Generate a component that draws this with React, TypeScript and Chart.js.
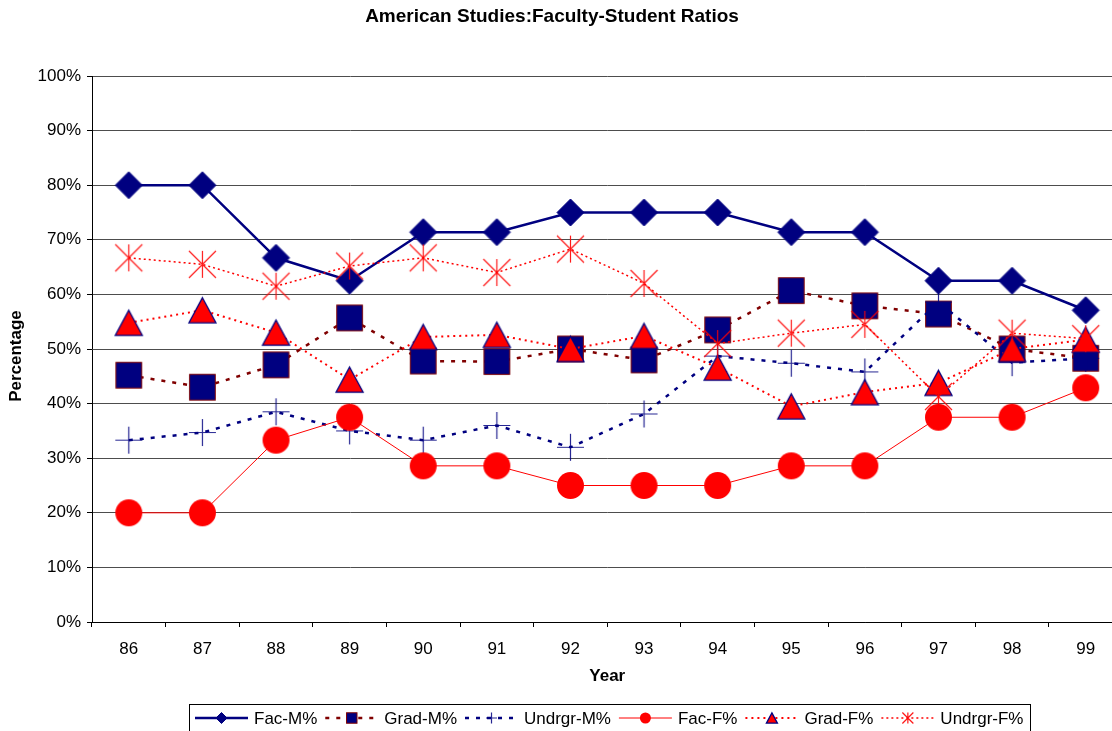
import React, { useEffect, useRef } from 'react';
import { Chart, registerables } from 'chart.js';

Chart.register(...registerables);

const years = ['86', '87', '88', '89', '90', '91', '92', '93', '94', '95', '96', '97', '98', '99'];
const facM = [80, 80, 66.7, 62.5, 71.4, 71.4, 75, 75, 75, 71.4, 71.4, 62.5, 62.5, 57.1];
const gradM = [45.2, 43.0, 47.1, 55.7, 47.8, 47.7, 50, 48.0, 53.5, 60.7, 57.9, 56.4, 50, 48.3];
const undrgrM = [33.3, 34.7, 38.5, 35.0, 33.3, 36.0, 32.0, 38.1, 48.7, 47.4, 45.8, 58.6, 47.5, 48.3];
const facF = [20, 20, 33.3, 37.5, 28.6, 28.6, 25, 25, 25, 28.6, 28.6, 37.5, 37.5, 42.9];
const gradF = [54.8, 57.1, 53.0, 44.4, 52.2, 52.6, 50, 52.4, 46.6, 39.5, 42.1, 43.8, 50, 51.7];
const undrgrF = [66.7, 65.5, 61.5, 65.2, 66.7, 64.0, 68.3, 62.0, 51.0, 52.9, 54.5, 41.3, 52.9, 51.9];

const seriesLabels = ['Fac-M%', 'Grad-M%', 'Undrgr-M%', 'Fac-F%', 'Grad-F%', 'Undrgr-F%'];
const yTicks = [0, 10, 20, 30, 40, 50, 60, 70, 80, 90, 100];

const chartTitle = 'American Studies:Faculty-Student Ratios';
const xTitle = 'Year';
const yTitle = 'Percentage';

const NAVY = '#000080';
const MAROON = '#800000';
const RED = '#FF0000';
const FONT = '"Liberation Sans", Arial, sans-serif';

type Kind = 'diamond' | 'square' | 'plus' | 'circle' | 'triangle' | 'star';

function drawMarker(ctx: CanvasRenderingContext2D, kind: Kind, cx: number, cy: number, s: number) {
  const h = s / 2;
  ctx.save();
  ctx.setLineDash([]);
  if (kind === 'diamond') {
    ctx.beginPath();
    ctx.moveTo(cx, cy - h);
    ctx.lineTo(cx + h, cy);
    ctx.lineTo(cx, cy + h);
    ctx.lineTo(cx - h, cy);
    ctx.closePath();
    ctx.fillStyle = NAVY;
    ctx.fill();
    ctx.strokeStyle = NAVY;
    ctx.lineWidth = 1;
    ctx.stroke();
  } else if (kind === 'square') {
    const q = h * 0.95;
    ctx.fillStyle = NAVY;
    ctx.fillRect(cx - q, cy - q, 2 * q, 2 * q);
    ctx.strokeStyle = MAROON;
    ctx.lineWidth = 1;
    ctx.strokeRect(cx - q, cy - q, 2 * q, 2 * q);
  } else if (kind === 'plus') {
    ctx.strokeStyle = 'rgba(0,0,128,0.85)';
    ctx.lineWidth = 1.2;
    ctx.beginPath();
    ctx.moveTo(cx - h, cy);
    ctx.lineTo(cx + h, cy);
    ctx.moveTo(cx, cy - h);
    ctx.lineTo(cx, cy + h);
    ctx.stroke();
  } else if (kind === 'circle') {
    ctx.beginPath();
    ctx.arc(cx, cy, h, 0, Math.PI * 2);
    ctx.fillStyle = RED;
    ctx.fill();
  } else if (kind === 'triangle') {
    const t = h * 0.93;
    ctx.beginPath();
    ctx.moveTo(cx, cy - t);
    ctx.lineTo(cx + h, cy + t);
    ctx.lineTo(cx - h, cy + t);
    ctx.closePath();
    ctx.fillStyle = RED;
    ctx.fill();
    ctx.strokeStyle = NAVY;
    ctx.lineWidth = 1.3;
    ctx.stroke();
  } else if (kind === 'star') {
    ctx.strokeStyle = 'rgba(255,0,0,0.9)';
    ctx.lineWidth = 1.2;
    ctx.beginPath();
    ctx.moveTo(cx - h, cy - h);
    ctx.lineTo(cx + h, cy + h);
    ctx.moveTo(cx + h, cy - h);
    ctx.lineTo(cx - h, cy + h);
    ctx.moveTo(cx, cy - h);
    ctx.lineTo(cx, cy + h);
    ctx.stroke();
  }
  ctx.restore();
}

function markerCanvas(kind: Kind, s: number): HTMLCanvasElement {
  const c = document.createElement('canvas');
  c.width = s + 4;
  c.height = s + 4;
  const ctx = c.getContext('2d') as CanvasRenderingContext2D;
  drawMarker(ctx, kind, c.width / 2, c.height / 2, s);
  return c;
}

const styles = [
  { kind: 'diamond' as Kind, color: NAVY, width: 2.5, dash: [] as number[] },
  { kind: 'square' as Kind, color: MAROON, width: 2.5, dash: [4, 7] },
  { kind: 'plus' as Kind, color: NAVY, width: 2.5, dash: [4, 7] },
  { kind: 'circle' as Kind, color: RED, width: 1, dash: [] as number[] },
  { kind: 'triangle' as Kind, color: RED, width: 2, dash: [2, 4] },
  { kind: 'star' as Kind, color: RED, width: 1.5, dash: [2, 3] },
];

const seriesData = [facM, gradM, undrgrM, facF, gradF, undrgrF];

const decorPlugin = {
  id: 'decor',
  afterDraw(chart: any) {
    const ctx: CanvasRenderingContext2D = chart.ctx;
    const area = chart.chartArea;
    ctx.save();
    // Title
    ctx.fillStyle = '#000';
    ctx.font = `bold 19px ${FONT}`;
    ctx.textAlign = 'center';
    ctx.textBaseline = 'middle';
    ctx.fillText(chartTitle, 552, 17);
    // X title
    ctx.font = `bold 17px ${FONT}`;
    ctx.fillText(xTitle, (area.left + area.right) / 2, 676);
    // Y title
    ctx.save();
    ctx.translate(16, 356);
    ctx.rotate(-Math.PI / 2);
    ctx.fillText(yTitle, 0, 0);
    ctx.restore();

    // Legend
    ctx.font = `17px ${FONT}`;
    ctx.textAlign = 'left';
    ctx.textBaseline = 'middle';
    const ly = 718;
    ctx.strokeStyle = '#000';
    ctx.lineWidth = 1;
    ctx.setLineDash([]);
    ctx.strokeRect(189.5, 704.5, 841, 32);
    let x = 195;
    seriesLabels.forEach((lab, i) => {
      const st = styles[i];
      ctx.save();
      ctx.strokeStyle = st.color;
      ctx.lineWidth = st.width;
      ctx.setLineDash(st.dash);
      ctx.beginPath();
      ctx.moveTo(x, ly);
      ctx.lineTo(x + 53, ly);
      ctx.stroke();
      ctx.restore();
      drawMarker(ctx, st.kind, x + 26.5, ly, 11);
      ctx.fillStyle = '#000';
      ctx.fillText(lab, x + 59, ly + 1);
      x += 59 + ctx.measureText(lab).width + 8;
    });
    ctx.restore();
  },
};

export default function App() {
  const ref = useRef<HTMLCanvasElement | null>(null);

  useEffect(() => {
    if (!ref.current) return;
    const datasets = seriesLabels.map((label, i) => {
      const st = styles[i];
      return {
        label,
        data: seriesData[i],
        borderColor: st.color,
        backgroundColor: st.color,
        borderWidth: st.width,
        borderDash: st.dash,
        pointStyle: markerCanvas(st.kind, 27),
        pointRadius: 13,
        pointHoverRadius: 13,
        tension: 0,
        fill: false,
        order: 5 - i,
      };
    });

    const chart = new Chart(ref.current, {
      type: 'line',
      data: { labels: years, datasets },
      options: {
        animation: false,
        responsive: false,
        devicePixelRatio: 1,
        events: [],
        layout: { padding: { left: 0, top: 76, right: 7.6, bottom: 0 } },
        plugins: {
          legend: { display: false },
          title: { display: false },
          tooltip: { enabled: false },
        },
        scales: {
          x: {
            type: 'category',
            offset: true,
            afterFit: (s: any) => {
              s.height = 109;
              s.paddingLeft = 0;
              s.paddingRight = 0;
            },
            grid: {
              display: true,
              offset: true,
              drawOnChartArea: false,
              drawTicks: true,
              tickLength: 5,
              tickColor: '#000',
            },
            border: { display: true, color: '#000', width: 1 },
            ticks: {
              color: '#000',
              font: { family: FONT, size: 17 },
              padding: 12,
              maxRotation: 0,
              autoSkip: false,
            },
          },
          y: {
            min: 0,
            max: 100,
            afterFit: (s: any) => {
              s.width = 92;
            },
            afterBuildTicks: (s: any) => {
              s.ticks = yTicks.map((v) => ({ value: v }));
            },
            grid: {
              color: '#4d4d4d',
              lineWidth: 1,
              tickLength: 5,
              tickColor: '#000',
            },
            border: { display: true, color: '#000', width: 1 },
            ticks: {
              color: '#000',
              font: { family: FONT, size: 17 },
              padding: 6,
              callback: (v: any) => `${v}%`,
            },
          },
        },
      },
      plugins: [decorPlugin],
    } as any);

    return () => chart.destroy();
  }, []);

  return (
    <div
      style={{
        position: 'fixed',
        left: 0,
        top: 0,
        width: 1112,
        height: 731,
        overflow: 'hidden',
        background: '#fff',
      }}
    >
      <canvas ref={ref} width={1138} height={731} style={{ display: 'block' }} />
    </div>
  );
}
